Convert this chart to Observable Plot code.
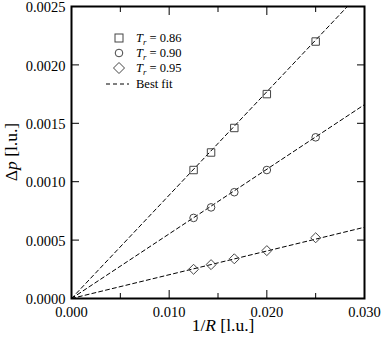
<!DOCTYPE html>
<html><head><meta charset="utf-8">
<script src="https://cdn.jsdelivr.net/npm/d3@7"></script>
<script src="https://cdn.jsdelivr.net/npm/@observablehq/plot@0.6"></script>
<style>
body{margin:0;background:#fff;}
#wrap{position:relative;width:382px;height:337px;font-family:'Liberation Serif','Times New Roman','DejaVu Serif',serif;color:#000;}
#wrap svg text{font-family:'Liberation Serif','Times New Roman','DejaVu Serif',serif;}
.lab{position:absolute;white-space:nowrap;font-size:17.5px;line-height:18px;}
.leg{position:absolute;left:106px;font-size:12.5px;line-height:14px;height:14px;white-space:nowrap;}
.leg svg{position:absolute;left:0;top:0;}
.leg span.t{position:absolute;left:30px;top:0;}
sub{font-size:0.7em;vertical-align:-0.3em;line-height:0;}
</style></head><body><div id="wrap"></div>
<script>
const invR = [0.0125, 0.01429, 0.01667, 0.020, 0.025];
const dpTr086 = [0.00110, 0.00125, 0.00146, 0.00175, 0.00220];
const dpTr090 = [0.00069, 0.00078, 0.00091, 0.00110, 0.00138];
const dpTr095 = [0.00025, 0.00029, 0.00034, 0.00041, 0.00052];
const fitX = [0, 0.030];
const fit086 = [0, 0.002655];
const fit090 = [0, 0.00166];
const fit095 = [0, 0.00061];
const xTicks = [0, 0.010, 0.020, 0.030];
const xMinorTicks = [0.005, 0.015, 0.025];
const yTicks = [0, 0.0005, 0.0010, 0.0015, 0.0020, 0.0025];
const legendLabels = ["0.86", "0.90", "0.95"];

const FONT = "'Liberation Serif', 'Times New Roman', 'DejaVu Serif', serif";
const pts = ys => invR.map((x, i) => ({x, y: ys[i]}));
const fit = ys => fitX.map((x, i) => ({x, y: ys[i]}));
const dash = {x: "x", y: "y", stroke: "#000", strokeWidth: 1, strokeDasharray: "4,3", clip: true};
const dotStyle = {x: "x", y: "y", stroke: "#444", strokeWidth: 1, fill: "none"};
const blank = () => "";

const chart = Plot.plot({
  width: 382, height: 337,
  marginLeft: 71, marginRight: 18, marginTop: 6, marginBottom: 39,
  x: {domain: [0, 0.03]},
  y: {domain: [0, 0.0025]},
  style: {fontFamily: FONT, fontSize: "14.5px", color: "#000", background: "#fff", overflow: "visible"},
  marks: [
    Plot.line(fit(fit086), dash),
    Plot.line(fit(fit090), dash),
    Plot.line(fit(fit095), dash),
    Plot.dot(pts(dpTr086), {...dotStyle, symbol: "square", r: 4.2}),
    Plot.dot(pts(dpTr090), {...dotStyle, symbol: "circle", r: 3.8}),
    Plot.dot(pts(dpTr095), {...dotStyle, symbol: "diamond2", r: 4.5}),
    Plot.axisX({anchor: "bottom", ticks: xTicks, tickSize: 0, tickPadding: 8, tickFormat: d3.format(".3f"), label: null}),
    Plot.axisX({anchor: "bottom", ticks: xTicks, tickSize: -8, tickFormat: blank, label: null}),
    Plot.axisX({anchor: "bottom", ticks: xMinorTicks, tickSize: -5, tickFormat: blank, label: null}),
    Plot.axisX({anchor: "top", ticks: xTicks, tickSize: -8, tickFormat: blank, label: null}),
    Plot.axisX({anchor: "top", ticks: xMinorTicks, tickSize: -5, tickFormat: blank, label: null}),
    Plot.axisY({anchor: "left", ticks: yTicks, tickSize: 0, tickPadding: 6, dy: 1, tickFormat: d3.format(".4f"), label: null}),
    Plot.axisY({anchor: "left", ticks: yTicks, tickSize: -8, tickFormat: blank, label: null}),
    Plot.axisY({anchor: "right", ticks: yTicks, tickSize: -8, tickFormat: blank, label: null}),
    Plot.frame({stroke: "#000", strokeWidth: 2})
  ]
});
const wrap = document.getElementById("wrap");
wrap.appendChild(chart);

function addDiv(cls, html, css) {
  const d = document.createElement("div");
  d.className = cls; d.innerHTML = html; Object.assign(d.style, css);
  wrap.appendChild(d); return d;
}
addDiv("lab", "1/<i>R</i> [l.u.]", {left: "223px", top: "325px", transform: "translate(-50%,-50%)"});
addDiv("lab", "&Delta;<i>p</i> [l.u.]", {left: "11px", top: "152px", transform: "translate(-50%,-50%) rotate(-90deg)"});

const symbols = [
  '<rect x="9" y="3" width="8" height="8" fill="none" stroke="#444"/>',
  '<circle cx="13" cy="7" r="3.8" fill="none" stroke="#444"/>',
  '<path d="M13,1.5L18.5,7L13,12.5L7.5,7Z" fill="none" stroke="#444"/>'
];
const rowTops = [31, 46, 61];
legendLabels.forEach((lab, i) => {
  addDiv("leg", `<svg width="26" height="14">${symbols[i]}</svg><span class="t"><i>T</i><sub><i>r</i></sub> = ${lab}</span>`, {top: rowTops[i] + "px"});
});
addDiv("leg", `<svg width="26" height="14"><line x1="0" y1="7" x2="23" y2="7" stroke="#000" stroke-dasharray="4,3"/></svg><span class="t">Best fit</span>`, {top: "77px"});
</script></body></html>
